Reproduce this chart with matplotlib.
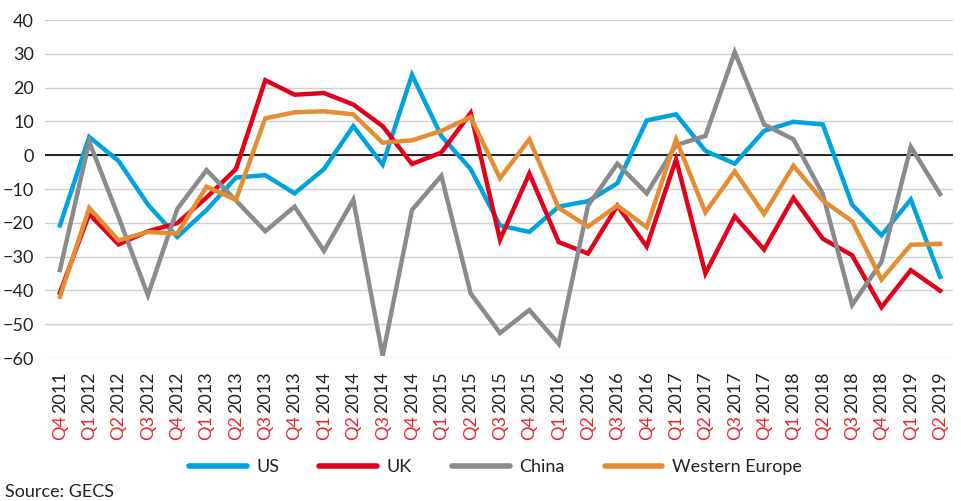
import numpy as np
import matplotlib
matplotlib.use("Agg")
import matplotlib.pyplot as plt
from matplotlib.transforms import blended_transform_factory, offset_copy

plt.rcParams['font.family'] = ['Lato', 'DejaVu Sans']

quarters = ['Q4', 'Q1', 'Q2', 'Q3', 'Q4', 'Q1', 'Q2', 'Q3', 'Q4', 'Q1', 'Q2', 'Q3', 'Q4',
            'Q1', 'Q2', 'Q3', 'Q4', 'Q1', 'Q2', 'Q3', 'Q4', 'Q1', 'Q2', 'Q3', 'Q4',
            'Q1', 'Q2', 'Q3', 'Q4', 'Q1', 'Q2']
years = ['2011', '2012', '2012', '2012', '2012', '2013', '2013', '2013', '2013',
         '2014', '2014', '2014', '2014', '2015', '2015', '2015', '2015',
         '2016', '2016', '2016', '2016', '2017', '2017', '2017', '2017',
         '2018', '2018', '2018', '2018', '2019', '2019']

us = [-20.8, 5.4, -1.7, -14.6, -24.2, -16.2, -6.6, -5.9, -11.3, -4.1,
      8.6, -2.8, 23.8, 5.7, -4.1, -20.8, -22.7, -15.2, -13.6, -8.3,
      10.3, 12.1, 1.3, -2.5, 7.2, 9.9, 9.1, -14.6, -23.7, -13.1, -36.0]
uk = [-40.7, -17.4, -26.4, -22.5, -20.1, -12.5, -4.1, 22.2, 17.9, 18.4,
      15.0, 8.6, -2.6, 0.8, 12.5, -25.0, -5.4, -25.7, -29.1, -14.9,
      -27.0, -1.2, -35.0, -18.1, -27.9, -12.6, -24.7, -29.6, -45.0, -34.0, -40.1]
china = [-34.0, 4.0, -18.3, -41.4, -15.9, -4.4, -13.4, -22.5, -15.2, -28.3,
         -13.2, -59.3, -16.2, -6.1, -40.9, -52.6, -45.8, -55.8, -14.9, -2.5,
         -11.3, 3.0, 5.7, 30.5, 9.1, 4.7, -11.5, -44.3, -31.6, 2.5, -11.5]
west_europe = [-41.9, -15.6, -25.2, -22.7, -23.2, -9.3, -13.2, 10.9, 12.7, 13.0,
               12.1, 3.7, 4.4, 7.2, 11.3, -6.8, 4.7, -15.6, -21.1, -14.9,
               -21.3, 4.7, -16.9, -4.8, -17.4, -3.1, -13.4, -19.5, -36.8, -26.5, -26.2]

series = [('US', us, '#00A3DF'),
          ('UK', uk, '#E2001A'),
          ('China', china, '#898B8D'),
          ('Western Europe', west_europe, '#E58D32')]

fs = 13

fig = plt.figure(figsize=(9.62, 5.01), dpi=100)
ax = fig.add_axes([0.047, 0.2854, 0.944, 0.6746])

x = np.arange(len(quarters))
for name, vals, col in series:
    ax.plot(x, vals, color=col, lw=3.2, label=name, solid_joinstyle='miter')

ax.set_ylim(-60, 40)
ax.set_xlim(-0.5, 30.45)
ax.set_yticks(np.arange(-60, 41, 10))
ax.yaxis.grid(True, color='#D0D0D0', lw=1)
ax.set_axisbelow(True)
ax.axhline(0, color='black', lw=1.2, zorder=1.5)
for s in ax.spines.values():
    s.set_visible(False)
ax.tick_params(axis='y', length=0, pad=8, labelsize=fs, labelcolor='#222222')
ax.set_xticks([])

# quarter in red, year in dark grey
trans = blended_transform_factory(ax.transData, ax.transAxes)
tr_year = offset_copy(trans, fig=fig, x=0, y=-13, units='dots')
tr_q = offset_copy(trans, fig=fig, x=0, y=-57, units='dots')
for i in range(len(quarters)):
    ax.text(i, 0, years[i], transform=tr_year, rotation=90, ha='center', va='top',
            fontsize=fs, color='#222222')
    ax.text(i, 0, quarters[i], transform=tr_q, rotation=90, ha='center', va='top',
            fontsize=fs, color='#E8262F')

leg = fig.legend(loc='center', bbox_to_anchor=(0.515, 0.068), ncol=4, frameon=False,
                 fontsize=fs, handlelength=3.2, handletextpad=0.55, columnspacing=2.2)
for h in leg.get_lines():
    h.set_linewidth(4)
    h.set_solid_capstyle('round')
for t in leg.get_texts():
    t.set_color('#222222')

fig.text(0.005, 0.002, 'Source: GECS', fontsize=fs, color='#222222', ha='left', va='bottom')

fig.savefig('out.png', dpi=100)
